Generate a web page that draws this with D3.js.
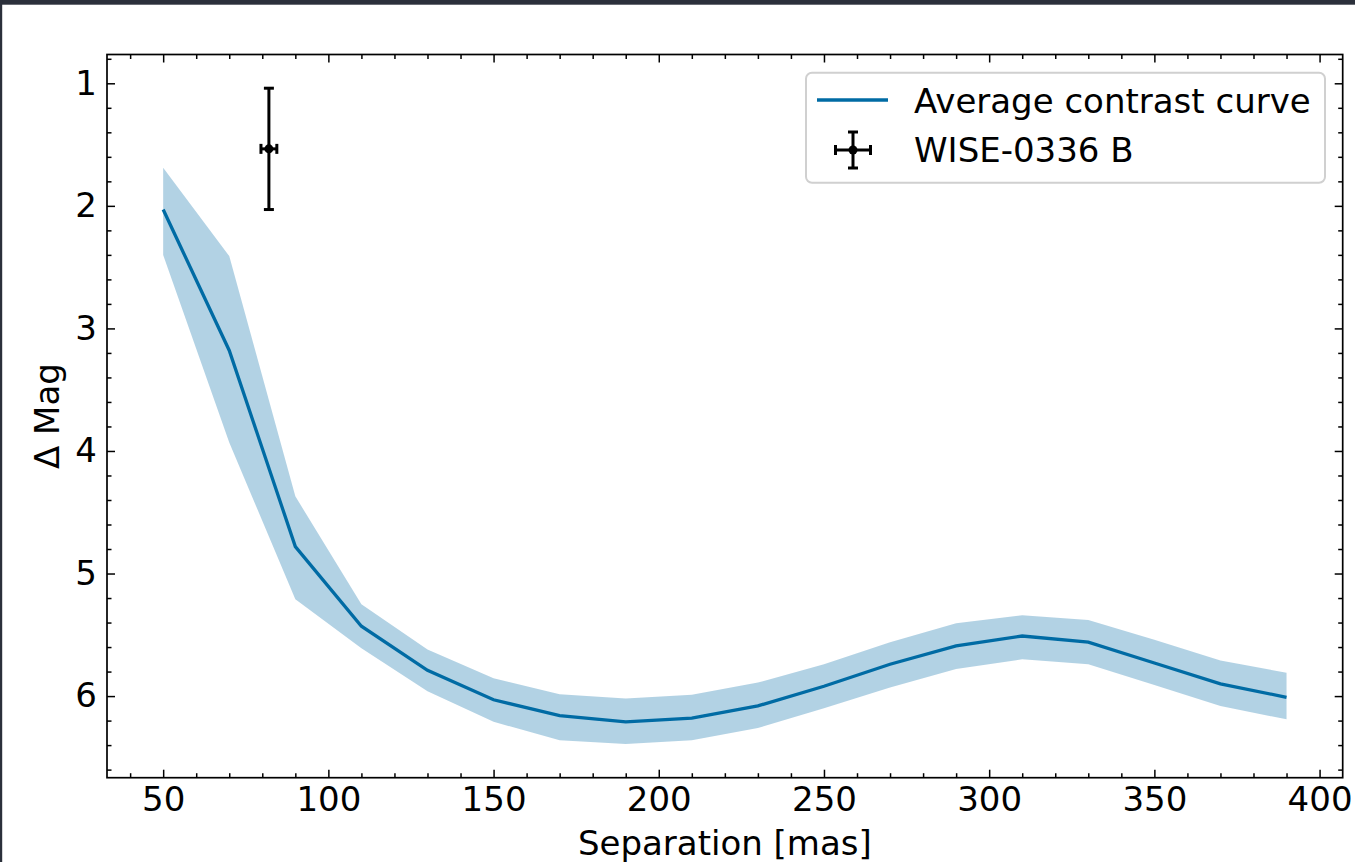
<!DOCTYPE html>
<html>
<head>
<meta charset="utf-8">
<script src="https://cdn.jsdelivr.net/npm/d3@7"></script>
<style>
  body { margin: 0; background: #ffffff; }
  svg { display: block; }
  text { font-family: "DejaVu Sans", sans-serif; }
</style>
</head>
<body>
<div id="chart"></div>
<script>
// separation (mas) of each contrast sample
const separation = [50, 70, 90, 110, 130, 150, 170, 190, 210, 230, 250, 270, 290, 310, 330, 350, 370, 390];
// mean contrast curve (delta mag)
const meanContrast = [2.03, 3.18, 4.78, 5.43, 5.79, 6.03, 6.16, 6.21, 6.18, 6.08, 5.92, 5.74, 5.59, 5.51, 5.56, 5.73, 5.90, 6.01];
// upper / lower edge of the shaded band
const bandTop = [1.69, 2.41, 4.37, 5.25, 5.62, 5.855, 5.985, 6.02, 5.99, 5.89, 5.74, 5.56, 5.405, 5.34, 5.38, 5.54, 5.71, 5.81];
const bandBottom = [2.40, 3.93, 5.21, 5.61, 5.96, 6.21, 6.36, 6.39, 6.36, 6.26, 6.10, 5.93, 5.78, 5.70, 5.74, 5.91, 6.08, 6.19];

// the companion point
const companion = [{ name: "WISE-0336 B", sep: 82, sepErr: 2.4, mag: 1.535, magErr: 0.495 }];

const xMajorTicks = [50, 100, 150, 200, 250, 300, 350, 400];
const yMajorTicks = [1, 2, 3, 4, 5, 6];

const WIDTH = 1355;
const HEIGHT = 862;
const PLOT = { left: 107, top: 54.5, right: 1342.7, bottom: 777.7 };
const LINE_COLOR = "#006ba4";
const FONT_SIZE = 34;

const svg = d3.select("#chart").append("svg").attr("width", WIDTH).attr("height", HEIGHT);

svg.append("rect").attr("width", WIDTH).attr("height", HEIGHT).attr("fill", "#ffffff");
// dark frame of the screenshot
svg.append("rect").attr("x", 0).attr("y", 0).attr("width", WIDTH).attr("height", 4.7).attr("fill", "#2b303b");
svg.append("rect").attr("x", 0).attr("y", 0).attr("width", 2.2).attr("height", HEIGHT).attr("fill", "#2b303b");

const x = d3.scaleLinear().domain([33.0, 407.0]).range([PLOT.left, PLOT.right]);
const y = d3.scaleLinear().domain([0.765, 6.666]).range([PLOT.top, PLOT.bottom]);

const rows = separation.map((s, i) => ({ s, m: meanContrast[i], lo: bandTop[i], hi: bandBottom[i] }));

const plot = svg.append("g");

// shaded band
plot.append("path")
  .datum(rows)
  .attr("fill", LINE_COLOR)
  .attr("fill-opacity", 0.3)
  .attr("d", d3.area().x((d) => x(d.s)).y0((d) => y(d.lo)).y1((d) => y(d.hi)));

// mean curve
plot.append("path")
  .datum(rows)
  .attr("fill", "none")
  .attr("stroke", LINE_COLOR)
  .attr("stroke-width", 3.3)
  .attr("d", d3.line().x((d) => x(d.s)).y((d) => y(d.m)));

// error bar for the companion
function drawErrorbar(g, cx, cy, halfW, halfH, capHalf) {
  g.append("line").attr("x1", cx).attr("x2", cx).attr("y1", cy - halfH).attr("y2", cy + halfH);
  g.append("line").attr("x1", cx - halfW).attr("x2", cx + halfW).attr("y1", cy).attr("y2", cy);
  [cy - halfH, cy + halfH].forEach((yy) =>
    g.append("line").attr("x1", cx - capHalf).attr("x2", cx + capHalf).attr("y1", yy).attr("y2", yy));
  [cx - halfW, cx + halfW].forEach((xx) =>
    g.append("line").attr("x1", xx).attr("x2", xx).attr("y1", cy - capHalf).attr("y2", cy + capHalf));
  g.append("circle").attr("cx", cx).attr("cy", cy).attr("r", 4.5).attr("fill", "#000").attr("stroke", "none");
}

companion.forEach((c) => {
  const g = plot.append("g").attr("stroke", "#000").attr("stroke-width", 3);
  const cx = x(c.sep);
  const cy = y(c.mag);
  drawErrorbar(g, cx, cy, x(c.sep + c.sepErr) - cx, y(c.mag + c.magErr) - cy, 5);
});

// axes: ticks point inward on all four sides
function styleAxis(g) {
  g.select(".domain").remove();
  g.selectAll(".tick line").attr("stroke", "#000").attr("stroke-width", 1.5);
  g.selectAll(".tick text").attr("fill", "#000").style("font-size", FONT_SIZE + "px");
}

const xMinor = d3.range(40, 410, 10).filter((v) => v % 50 !== 0);
const yMinor = d3.range(0.8, 6.7, 0.2).map((v) => +v.toFixed(1)).filter((v) => Math.abs(v - Math.round(v)) > 1e-6);

svg.append("g")
  .attr("transform", `translate(0,${PLOT.bottom})`)
  .call(d3.axisBottom(x).tickValues(xMajorTicks).tickSize(-8).tickPadding(9).tickFormat(d3.format("d")))
  .call(styleAxis);
svg.append("g")
  .attr("transform", `translate(0,${PLOT.bottom})`)
  .call(d3.axisBottom(x).tickValues(xMinor).tickSize(-4.5).tickFormat(""))
  .call(styleAxis);
svg.append("g")
  .attr("transform", `translate(0,${PLOT.top})`)
  .call(d3.axisTop(x).tickValues(xMajorTicks).tickSize(-8).tickFormat(""))
  .call(styleAxis);
svg.append("g")
  .attr("transform", `translate(0,${PLOT.top})`)
  .call(d3.axisTop(x).tickValues(xMinor).tickSize(-4.5).tickFormat(""))
  .call(styleAxis);

svg.append("g")
  .attr("transform", `translate(${PLOT.left},0)`)
  .call(d3.axisLeft(y).tickValues(yMajorTicks).tickSize(-8).tickPadding(10).tickFormat(d3.format("d")))
  .call(styleAxis);
svg.append("g")
  .attr("transform", `translate(${PLOT.left},0)`)
  .call(d3.axisLeft(y).tickValues(yMinor).tickSize(-4.5).tickFormat(""))
  .call(styleAxis);
svg.append("g")
  .attr("transform", `translate(${PLOT.right},0)`)
  .call(d3.axisRight(y).tickValues(yMajorTicks).tickSize(-8).tickFormat(""))
  .call(styleAxis);
svg.append("g")
  .attr("transform", `translate(${PLOT.right},0)`)
  .call(d3.axisRight(y).tickValues(yMinor).tickSize(-4.5).tickFormat(""))
  .call(styleAxis);

// frame
svg.append("rect")
  .attr("x", PLOT.left).attr("y", PLOT.top)
  .attr("width", PLOT.right - PLOT.left).attr("height", PLOT.bottom - PLOT.top)
  .attr("fill", "none").attr("stroke", "#000").attr("stroke-width", 1.7);

// axis labels
svg.append("text")
  .attr("x", (PLOT.left + PLOT.right) / 2).attr("y", 855)
  .attr("text-anchor", "middle").style("font-size", FONT_SIZE + "px")
  .text("Separation [mas]");
svg.append("text")
  .attr("transform", `translate(59,${(PLOT.top + PLOT.bottom) / 2}) rotate(-90)`)
  .attr("text-anchor", "middle").style("font-size", FONT_SIZE + "px")
  .text("Δ Mag");

// legend
const legend = svg.append("g");
legend.append("rect")
  .attr("x", 806).attr("y", 72.7).attr("width", 519).attr("height", 110)
  .attr("rx", 6).attr("fill", "#ffffff").attr("fill-opacity", 0.8)
  .attr("stroke", "#d0d0d0").attr("stroke-width", 2);
legend.append("line")
  .attr("x1", 817).attr("x2", 888).attr("y1", 100).attr("y2", 100)
  .attr("stroke", LINE_COLOR).attr("stroke-width", 3.3);
legend.append("text").attr("x", 914).attr("y", 112.5).style("font-size", FONT_SIZE + "px").text("Average contrast curve");
const legendBar = legend.append("g").attr("stroke", "#000").attr("stroke-width", 3);
drawErrorbar(legendBar, 853, 150, 17.5, 18, 5);
legend.append("text").attr("x", 914).attr("y", 162).style("font-size", FONT_SIZE + "px").text(companion[0].name);
</script>
</body>
</html>
